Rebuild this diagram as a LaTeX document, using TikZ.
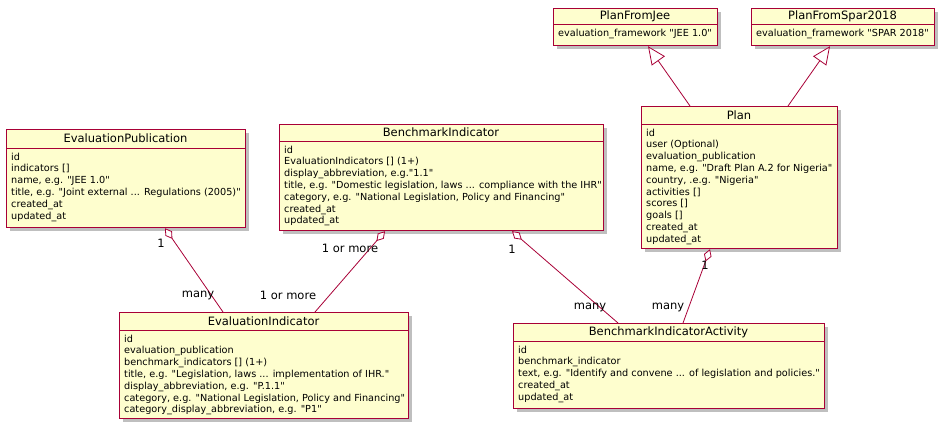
\documentclass[tikz,border=0pt]{standalone}
\usepackage{fontspec}
\setmainfont{DejaVu Sans}[Ligatures=TeXOff]
\usetikzlibrary{arrows.meta,shadows,calc}
\definecolor{umlred}{HTML}{A80036}
\definecolor{umlfill}{HTML}{FEFECE}
\newcommand\tridots{...}
\newcommand\umlclass[8]{%
  \node[classbox, anchor=north west, minimum width=#4pt-#2pt, minimum height=#5pt-#3pt] (#1) at (#2,#3) {};
  \draw[sepline] (#1.west |- 0,#6) -- (#1.east |- 0,#6);
  \node[titletext] (#1-title) at ({(#2+#4)/2},{(#3+#6)/2}) {#7};
  \foreach \t [count=\i] in {#8} {\node[bodytext] (#1-\i) at ({#2+5},{#6+12+(\i-1)*11.8}) {\t};}
}
\begin{document}
\begin{tikzpicture}[x=1pt,y=-1pt,
  classbox/.style={draw=umlred, fill=umlfill, line width=1.2pt, inner sep=0pt,
    drop shadow={shadow xshift=3.5pt, shadow yshift=-3.5pt, opacity=0.25, fill=black}},
  sepline/.style={draw=umlred, line width=1pt},
  titletext/.style={font=\fontsize{11.5}{13}\selectfont, inner sep=0pt},
  bodytext/.style={font=\fontsize{9.7}{11.8}\selectfont, inner sep=0pt, anchor=base west},
  conn/.style={draw=umlred, line width=0.8pt},
  agg/.style={conn, {Diamond[open, length=13pt, width=8pt, fill=white]}-},
  inh/.style={conn, -{Triangle[open, length=18pt, width=16pt, fill=white]}},
  mult/.style={font=\fontsize{11.5}{13}\selectfont, inner sep=0pt},
]
\useasboundingbox (0,0) rectangle (944,428);

\umlclass{ep}{6}{129}{245}{227}{148}{EvaluationPublication}{{id},{indicators []},{name, e.g. "JEE 1.0"},{title, e.g. "Joint external \tridots{} Regulations (2005)"},{created\_at},{updated\_at}}

\umlclass{bi}{279}{124}{603}{230}{141}{BenchmarkIndicator}{{id},{EvaluationIndicators [] (1+)},{display\_abbreviation, e.g."1.1"},{title, e.g. "Domestic legislation, laws \tridots{} compliance with the IHR"},{category, e.g. "National Legislation, Policy and Financing"},{created\_at},{updated\_at}}

\umlclass{pfj}{553}{8}{717}{45}{25}{PlanFromJee}{{evaluation\_framework "JEE 1.0"}}

\umlclass{pfs}{751}{8}{934}{45}{25}{PlanFromSpar2018}{{evaluation\_framework "SPAR 2018"}}

\umlclass{plan}{641}{106}{837}{248}{124}{Plan}{{id},{user (Optional)},{evaluation\_publication},{name, e.g. "Draft Plan A.2 for Nigeria"},{country, .e.g. "Nigeria"},{activities []},{scores []},{goals []},{created\_at},{updated\_at}}

\umlclass{ei}{119}{312}{408}{418}{330}{EvaluationIndicator}{{id},{evaluation\_publication},{benchmark\_indicators [] (1+)},{title, e.g. "Legislation, laws \tridots{} implementation of IHR."},{display\_abbreviation, e.g. "P.1.1"},{category, e.g. "National Legislation, Policy and Financing"},{category\_display\_abbreviation, e.g. "P1"}}

\umlclass{bia}{513}{323}{824}{408}{341}{BenchmarkIndicatorActivity}{{id},{benchmark\_indicator},{text, e.g. "Identify and convene \tridots{} of legislation and policies."},{created\_at},{updated\_at}}

% connectors
\draw[agg] ([xshift=159pt]ep.south west) -- ([xshift=104pt]ei.north west);
\draw[agg] ([xshift=106pt]bi.south west) -- ([xshift=196pt]ei.north west);
\draw[agg] ([xshift=233pt]bi.south west) -- ([xshift=105pt]bia.north west);
\draw[agg] ([xshift=69pt]plan.south west) -- ([xshift=170pt]bia.north west);
\draw[inh] ([xshift=49pt]plan.north west) -- ([xshift=95pt]pfj.south west);
\draw[inh] ([xshift=147pt]plan.north west) -- ([xshift=79pt]pfs.south west);

% multiplicities
\node[mult] (m1) at (161,243) {1};
\node[mult] (m2) at (198,295) {many};
\node[mult] (m3) at (350,248) {1 or more};
\node[mult] (m4) at (288,295) {1 or more};
\node[mult] (m5) at (512,249) {1};
\node[mult] (m6) at (590,307) {many};
\node[mult] (m7) at (705,265) {1};
\node[mult] (m8) at (668,307) {many};
\end{tikzpicture}
\end{document}
